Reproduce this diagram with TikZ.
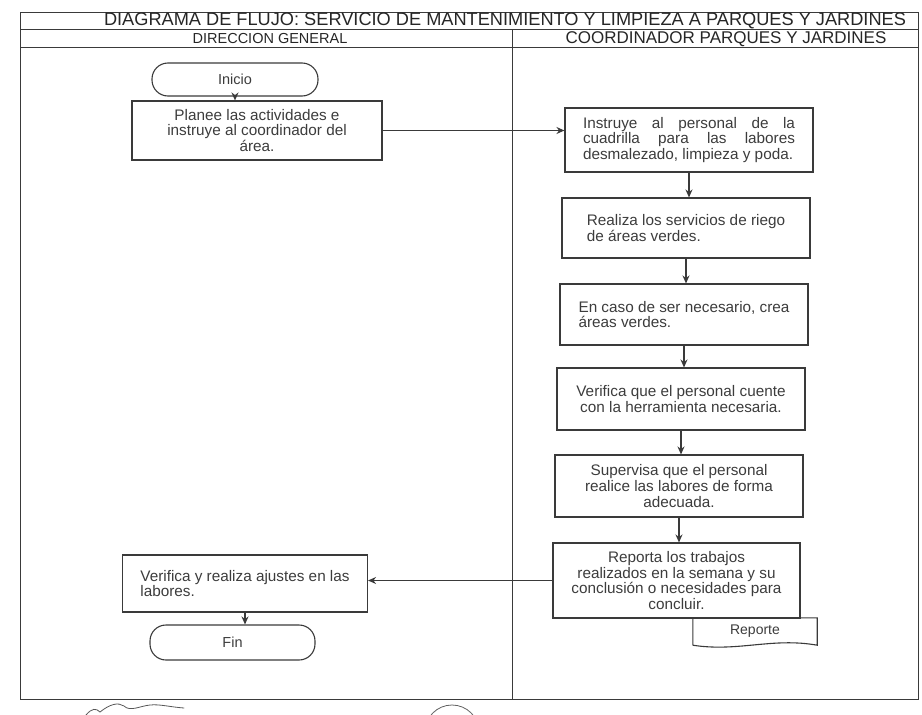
\documentclass[tikz,border=0pt]{standalone}
\usepackage{fontspec}
\setmainfont{Liberation Sans}
\usetikzlibrary{arrows.meta}
\definecolor{ink}{HTML}{3A3A3A}
\definecolor{txt}{HTML}{3C3C3C}
\begin{document}
\begin{tikzpicture}[x=1pt,y=-1pt,
  frame/.style={draw=ink, line width=0.8pt},
  proc/.style={draw=ink, line width=1.1pt, font=\fontsize{15.3}{15.6}\selectfont, text=txt, inner sep=0pt},
  term/.style={draw=ink, line width=1.1pt, rounded corners=16pt, font=\fontsize{14.5}{16}\selectfont, text=txt, inner sep=0pt},
  flow/.style={draw=ink, line width=1.2pt, -{Stealth[length=8pt,width=7pt]}},
  head/.style={font=\fontsize{17}{19}\selectfont, text=black!85, inner sep=0pt},
]
\useasboundingbox (0,0) rectangle (922,715);

% outer frame, title row and lane headers
\draw[frame] (20,12) rectangle (918,699);
\draw[frame] (20,29) -- (918,29);
\draw[frame] (20,47) -- (918,47);
\draw[frame] (512,29) -- (512,699);

\node[head, font=\fontsize{18.2}{20}\selectfont] (title) at (505,21)
  {DIAGRAMA DE FLUJO: SERVICIO DE MANTENIMIENTO Y LIMPIEZA A PARQUES Y JARDINES};
\node[head, font=\fontsize{14.5}{17}\selectfont] (laneA) at (270,38.5) {DIRECCION GENERAL};
\node[head] (laneB) at (726,39.5) {COORDINADOR PARQUES Y JARDINES};

% left lane
\node[term, minimum width=166pt, minimum height=33pt] (ini) at (235,79.5) {Inicio};
\node[proc, minimum width=250pt, minimum height=59pt, align=center] (b1) at (257,130.5)
  {Planee las actividades e\\instruye al coordinador del\\área.};

% right lane
\node[proc, minimum width=248pt, minimum height=64pt, text width=212pt, align=justify] (b2) at (689,140)
  {Instruye al personal de la\linebreak cuadrilla para las labores\linebreak desmalezado, limpieza y poda.};
\node[proc, minimum width=248pt, minimum height=60pt, align=left] (b3) at (686,228)
  {Realiza los servicios de riego\\de áreas verdes.};
\node[proc, minimum width=248pt, minimum height=61pt, align=left] (b4) at (684,314.5)
  {En caso de ser necesario, crea\\áreas verdes.};
\node[proc, minimum width=248pt, minimum height=62pt, align=center] (b5) at (681,399)
  {Verifica que el personal cuente\\con la herramienta necesaria.};
\node[proc, minimum width=248pt, minimum height=62pt, align=center] (b6) at (679,486)
  {Supervisa que el personal\\realice las labores de forma\\adecuada.};
\node[proc, minimum width=247pt, minimum height=75pt, align=center] (b7) at (676.5,580.5)
  {Reporta los trabajos\\realizados en la semana y su\\conclusión o necesidades para\\concluir.};

% document symbol under the report step
\node[font=\fontsize{14}{15}\selectfont, text=txt, minimum width=124pt, minimum height=27pt, inner sep=0pt] (rep) at (755,631.5) {Reporte};
\draw[ink, line width=1.1pt] (rep.south west) -- (rep.north west) -- (rep.north east) -- (rep.south east)
  .. controls +(-45,-8) and +(45,7) .. (rep.south west);

% back in the left lane
\node[proc, minimum width=245pt, minimum height=57pt, align=left] (b8) at (245,583.5)
  {Verifica y realiza ajustes en las\\labores.};
\node[term, minimum width=165pt, minimum height=35pt] (fin) at (232.5,642.5) {Fin};

% connectors
\draw[flow] (ini.south) -- (ini.south |- b1.north);
\draw[flow] (b1.east) -- (b1.east -| b2.west);
\draw[flow] (b2.south) -- (b2.south |- b3.north);
\draw[flow] (b3.south) -- (b3.south |- b4.north);
\draw[flow] (b4.south) -- (b4.south |- b5.north);
\draw[flow] (b5.south) -- (b5.south |- b6.north);
\draw[flow] (b6.south) -- (b6.south |- b7.north);
\draw[flow] (b7.west) -- (b7.west -| b8.east);
\draw[flow] (b8.south) -- (b8.south |- fin.north);

% stamp edge and signature stroke along the lower border
\begin{scope}
  \clip (0,0) rectangle (922,715);
  \draw[ink!80, line width=0.8pt] (452,732) circle (27pt);
  \draw[ink!85, line width=0.8pt, line cap=round]
    (86,715) .. controls (92,708) and (96,708) .. (100,712)
    .. controls (110,704) and (118,702) .. (124,706)
    .. controls (130,712) and (140,706) .. (150,705)
    .. controls (160,704) and (170,707) .. (184,708);
\end{scope}
\end{tikzpicture}
\end{document}
